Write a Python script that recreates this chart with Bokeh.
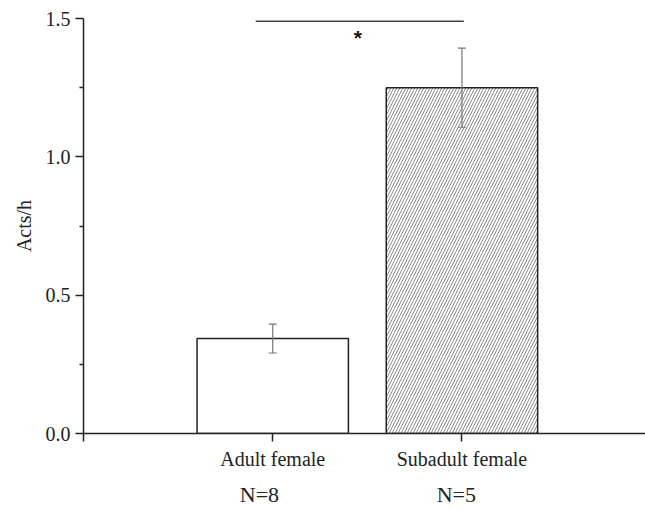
from bokeh.plotting import figure
from bokeh.models import Range1d, FixedTicker, ColumnDataSource, Whisker, TeeHead, LinearAxis
from bokeh.core.properties import value
from bokeh.embed import file_html
from bokeh.resources import INLINE

# ---- data ----
categories = ["Adult female", "Subadult female"]
cat_pos = [1, 2]
means = [0.343, 1.250]
errors = [0.052, 0.143]
n_labels = ["N=8", "N=5"]
y_ticks = [0.0, 0.5, 1.0, 1.5]
y_minor = [0.25, 0.75, 1.25]
sig_label = "*"
sig_level = 1.49

FONT = "Liberation Serif"
TXT = "#222222"

p = figure(width=645, height=509, output_backend="svg", toolbar_location=None,
           x_range=Range1d(0, 2.97), y_range=Range1d(0, 1.5),
           min_border_left=83, min_border_right=0, min_border_top=18, min_border_bottom=75)
p.outline_line_color = None
p.xgrid.visible = False
p.ygrid.visible = False
p.background_fill_color = "white"
p.border_fill_color = "white"

src = ColumnDataSource(dict(
    x=cat_pos, top=means,
    upper=[m + e for m, e in zip(means, errors)],
    lower=[m - e for m, e in zip(means, errors)],
    hatch=[" ", "/"],
))

p.vbar(x="x", top="top", width=0.8, source=src, fill_color="white",
       line_color="#222222", line_width=1.5,
       hatch_pattern="hatch", hatch_color="#8a8a8a", hatch_scale=6, hatch_weight=1)

w = Whisker(source=src, base="x", upper="upper", lower="lower", dimension="height",
            line_color="#777777", line_width=1.2, level="overlay",
            upper_head=TeeHead(size=8, line_color="#777777", line_width=1.2),
            lower_head=TeeHead(size=8, line_color="#777777", line_width=1.2))
p.add_layout(w)

# significance bar
p.line(x=[cat_pos[0] - 0.09, cat_pos[1] + 0.01], y=[sig_level, sig_level],
       line_color="#444444", line_width=1.5)
p.text(x=[(cat_pos[0] + cat_pos[1]) / 2 - 0.05], y=[1.43], text=[sig_label],
       text_font=value("Liberation Sans"), text_font_size="21px", text_font_style="bold",
       text_align="center", text_baseline="middle", text_color="#111111")

# axes
xa = p.xaxis[0]
xa.ticker = FixedTicker(ticks=[0] + cat_pos)
xa.major_label_overrides = {0: "", **{c: lab for c, lab in zip(cat_pos, categories)}}
xa.major_tick_in = 0
xa.major_tick_out = 8
xa.minor_tick_line_color = None
xa.axis_line_width = 1.5
xa.major_tick_line_width = 1.5
xa.axis_line_color = "#222222"
xa.major_tick_line_color = "#222222"
xa.major_label_text_font = FONT
xa.major_label_text_font_size = "20px"
xa.major_label_text_color = TXT
xa.major_label_standoff = 6

# second axis row carrying sample sizes
n_pos = [cat_pos[0] - 0.07, cat_pos[1] - 0.03]
na = LinearAxis(ticker=FixedTicker(ticks=n_pos),
                major_label_overrides={x: s for x, s in zip(n_pos, n_labels)},
                axis_line_color=None, major_tick_line_color=None, minor_tick_line_color=None,
                major_label_text_font=FONT, major_label_text_font_size="22px",
                major_label_text_color=TXT, major_label_standoff=3)
p.add_layout(na, "below")

ya = p.yaxis[0]
ya.ticker = FixedTicker(ticks=y_ticks, minor_ticks=y_minor)
ya.major_label_overrides = {t: f"{t:.1f}" for t in y_ticks}
ya.major_tick_in = 0
ya.major_tick_out = 8
ya.minor_tick_in = 0
ya.minor_tick_out = 4
ya.axis_line_width = 1.5
ya.major_tick_line_width = 1.5
ya.minor_tick_line_width = 1.5
ya.axis_line_color = "#222222"
ya.major_tick_line_color = "#222222"
ya.minor_tick_line_color = "#222222"
ya.major_label_text_font = FONT
ya.major_label_text_font_size = "20px"
ya.major_label_text_color = TXT
ya.major_label_standoff = 5
ya.axis_label = "Acts/h"
ya.axis_label_text_font = FONT
ya.axis_label_text_font_size = "20px"
ya.axis_label_text_font_style = "normal"
ya.axis_label_text_color = TXT
ya.axis_label_standoff = 8

open("out.html", "w").write(file_html(p, INLINE))
